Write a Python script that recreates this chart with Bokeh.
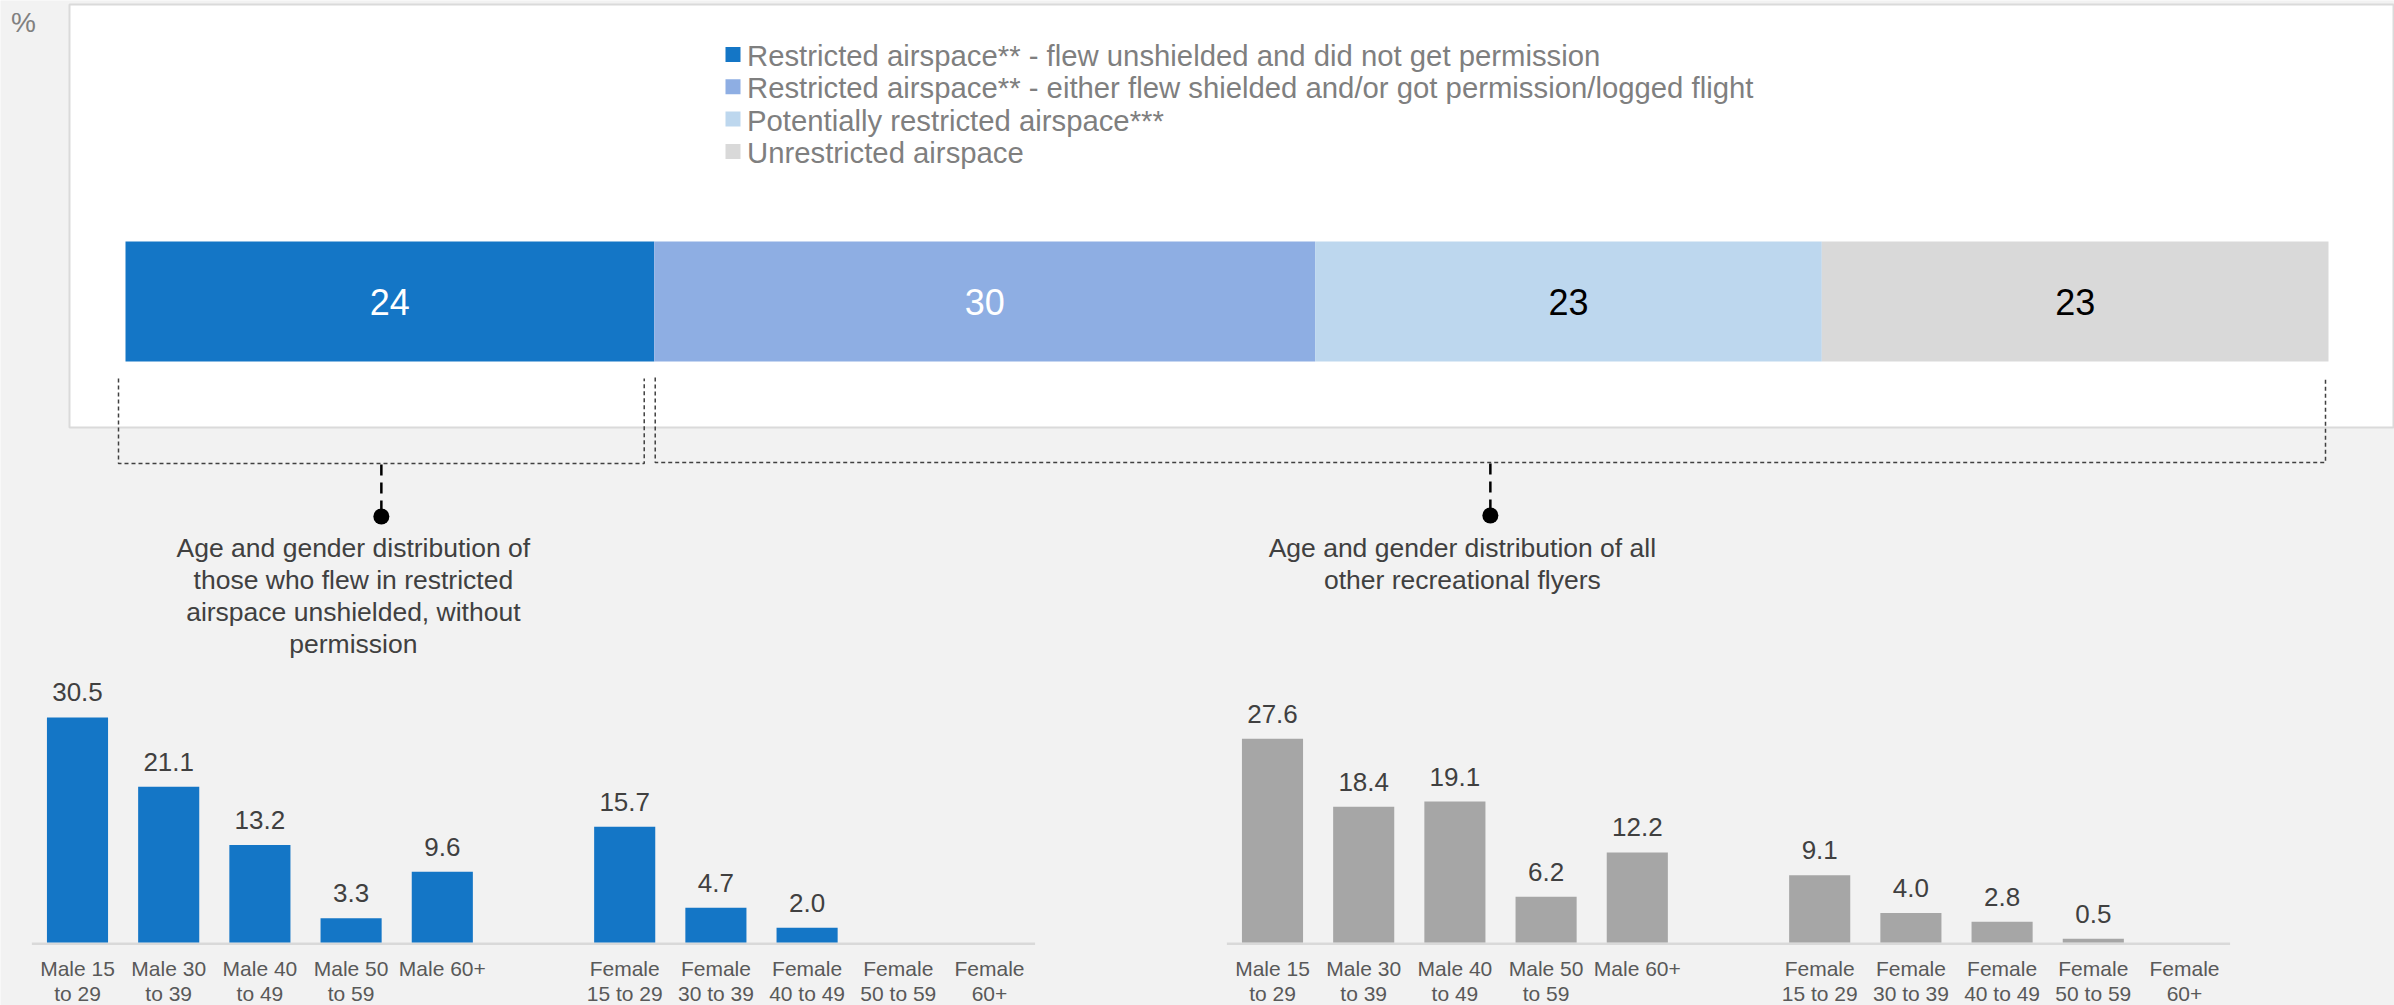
from bokeh.plotting import figure
from bokeh.models import Range1d, ColumnDataSource
from bokeh.core.properties import value
from bokeh.embed import file_html
from bokeh.resources import INLINE

# ---------------- data ----------------
stack_names = [
    "Restricted airspace** - flew unshielded and did not get permission",
    "Restricted airspace** - either flew shielded and/or got permission/logged flight",
    "Potentially restricted airspace***",
    "Unrestricted airspace",
]
stack_values = [24, 30, 23, 23]
stack_colors = ["#1476C6", "#8EAEE3", "#BDD7EE", "#D9D9D9"]
stack_text_colors = ["#FFFFFF", "#FFFFFF", "#000000", "#000000"]

categories = [
    "Male 15\nto 29", "Male 30\nto 39", "Male 40\nto 49", "Male 50\nto 59", "Male 60+",
    "Female\n15 to 29", "Female\n30 to 39", "Female\n40 to 49", "Female\n50 to 59", "Female\n60+",
]
restricted_values = [30.5, 21.1, 13.2, 3.3, 9.6, 15.7, 4.7, 2.0, None, None]
other_values = [27.6, 18.4, 19.1, 6.2, 12.2, 9.1, 4.0, 2.8, 0.5, None]

ann_left = ["Age and gender distribution of", "those who flew in restricted",
            "airspace unshielded, without", "permission"]
ann_right = ["Age and gender distribution of all", "other recreational flyers"]

# ---------------- layout ----------------
FONT = value("Liberation Sans")
W, H = 2394, 1005
OX, OY = 0, 0

p = figure(width=W, height=H, x_range=Range1d(OX, OX + W), y_range=Range1d(OY + H, OY),
           output_backend="svg", toolbar_location=None,
           x_axis_location=None, y_axis_location=None, min_border=0,
           background_fill_color="#F2F2F2", border_fill_color="#F2F2F2",
           outline_line_color=None)
p.grid.visible = False

# white panel
p.quad(left=69, right=2393, top=4, bottom=427, fill_color="#FFFFFF",
       line_color="#DADADA", line_width=2)

p.text(x=[23], y=[22], text=["%"], text_align="center", text_baseline="middle",
       text_font_size="28px", text_color="#808080", text_font=FONT)

# stacked bar range: 0..100 %
S0, S1 = 125, 2328
ppx = (S1 - S0) / 100.0
p.extra_x_ranges["sx"] = Range1d((OX - S0) / ppx, (OX + W - S0) / ppx)

lefts, rights = [], []
acc = 0
for v in stack_values:
    lefts.append(acc)
    acc += v
    rights.append(acc)
mids = [(a + b) / 2 for a, b in zip(lefts, rights)]
BAR_Y, BAR_H = 301, 120
src = ColumnDataSource(dict(left=lefts, right=rights, y=[BAR_Y] * 4, color=stack_colors,
                            mid=mids, lab=[str(v) for v in stack_values], tc=stack_text_colors))
p.hbar(y="y", height=BAR_H, left="left", right="right", fill_color="color", line_color=None,
       source=src, x_range_name="sx")
p.text(x="mid", y="y", text="lab", text_color="tc", text_align="center", text_baseline="middle",
       text_font_size="36px", text_font=FONT, source=src, x_range_name="sx")

# legend
LEG_X, LEG_Y0, LEG_DY = 732.5, 54, 32.3
for i, (name, col) in enumerate(zip(stack_names, stack_colors)):
    yy = LEG_Y0 + LEG_DY * i
    p.scatter(x=[LEG_X], y=[yy], marker="square", size=15, fill_color=col, line_color=None)
    p.text(x=[LEG_X + 14], y=[yy + 1], text=[name], text_align="left", text_baseline="middle",
           text_font_size="29.3px", text_color="#7F7F7F", text_font=FONT)

# brackets
c1 = rights[0]
lb = [lefts[0] - 7 / ppx, c1 - 10 / ppx]
rb = [c1 + 1 / ppx, rights[-1] - 3 / ppx]
p.multi_line(xs=[[lb[0], lb[0], lb[1], lb[1]], [rb[0], rb[0], rb[1], rb[1]]],
             ys=[[378, 463, 463, 378], [377, 462, 462, 377]],
             line_color="#404040", line_width=1.5, line_dash="4 3", x_range_name="sx")
mid_l = (lb[0] + lb[1]) / 2
mid_r = (rb[0] + rb[1]) / 2
p.segment(x0=[mid_l, mid_r], x1=[mid_l, mid_r], y0=[464, 463], y1=[512, 512],
          line_color="#000000", line_width=2.5, line_dash="11 7", x_range_name="sx")
p.scatter(x=[mid_l, mid_r], y=[516, 515], size=16, fill_color="#000000", line_color=None,
          x_range_name="sx")

for lines, m in ((ann_left, mid_l), (ann_right, mid_r)):
    xc = m - 28 / ppx
    p.text(x=[xc] * len(lines), y=[547 + 32 * k for k in range(len(lines))], text=lines,
           text_align="center", text_baseline="middle", text_font_size="26.5px",
           text_color="#404040", text_font=FONT, x_range_name="sx")

# bar charts
BASE, PPU, SLOT = 942, 7.38, 91.2
p.extra_y_ranges["by"] = Range1d((BASE - (OY + H)) / PPU, (BASE - OY) / PPU)
slots = [i if i < 5 else i + 1 for i in range(len(categories))]


def chart(vals, color, x0, name):
    p.extra_x_ranges[name] = Range1d((OX - x0) / SLOT, (OX + W - x0) / SLOT)
    p.segment(x0=[-0.5], x1=[10.5], y0=[-0.17], y1=[-0.17], line_color="#D9D9D9",
              line_width=2.5, x_range_name=name, y_range_name="by")
    xs = [s for s, v in zip(slots, vals) if v is not None]
    ys = [v for v in vals if v is not None]
    p.vbar(x=xs, top=ys, bottom=0, width=0.67, fill_color=color, line_color=None,
           x_range_name=name, y_range_name="by")
    p.text(x=xs, y=ys, text=["%.1f" % v for v in ys], y_offset=-25,
           text_align="center", text_baseline="middle", text_font_size="26px",
           text_color="#404040", text_font=FONT, x_range_name=name, y_range_name="by")
    for li, off in ((0, 26), (1, 51)):
        lx, lt = [], []
        for s, c in zip(slots, categories):
            parts = c.split("\n")
            if li < len(parts):
                lx.append(s)
                lt.append(parts[li])
        p.text(x=lx, y=[0] * len(lx), text=lt, y_offset=off, text_align="center",
               text_baseline="middle", text_font_size="21px", text_color="#595959",
               text_font=FONT, x_range_name=name, y_range_name="by")


chart(restricted_values, "#1476C6", 77, "lx")
chart(other_values, "#A6A6A6", 1272, "rx")

open("out.html", "w").write(file_html(p, INLINE))
